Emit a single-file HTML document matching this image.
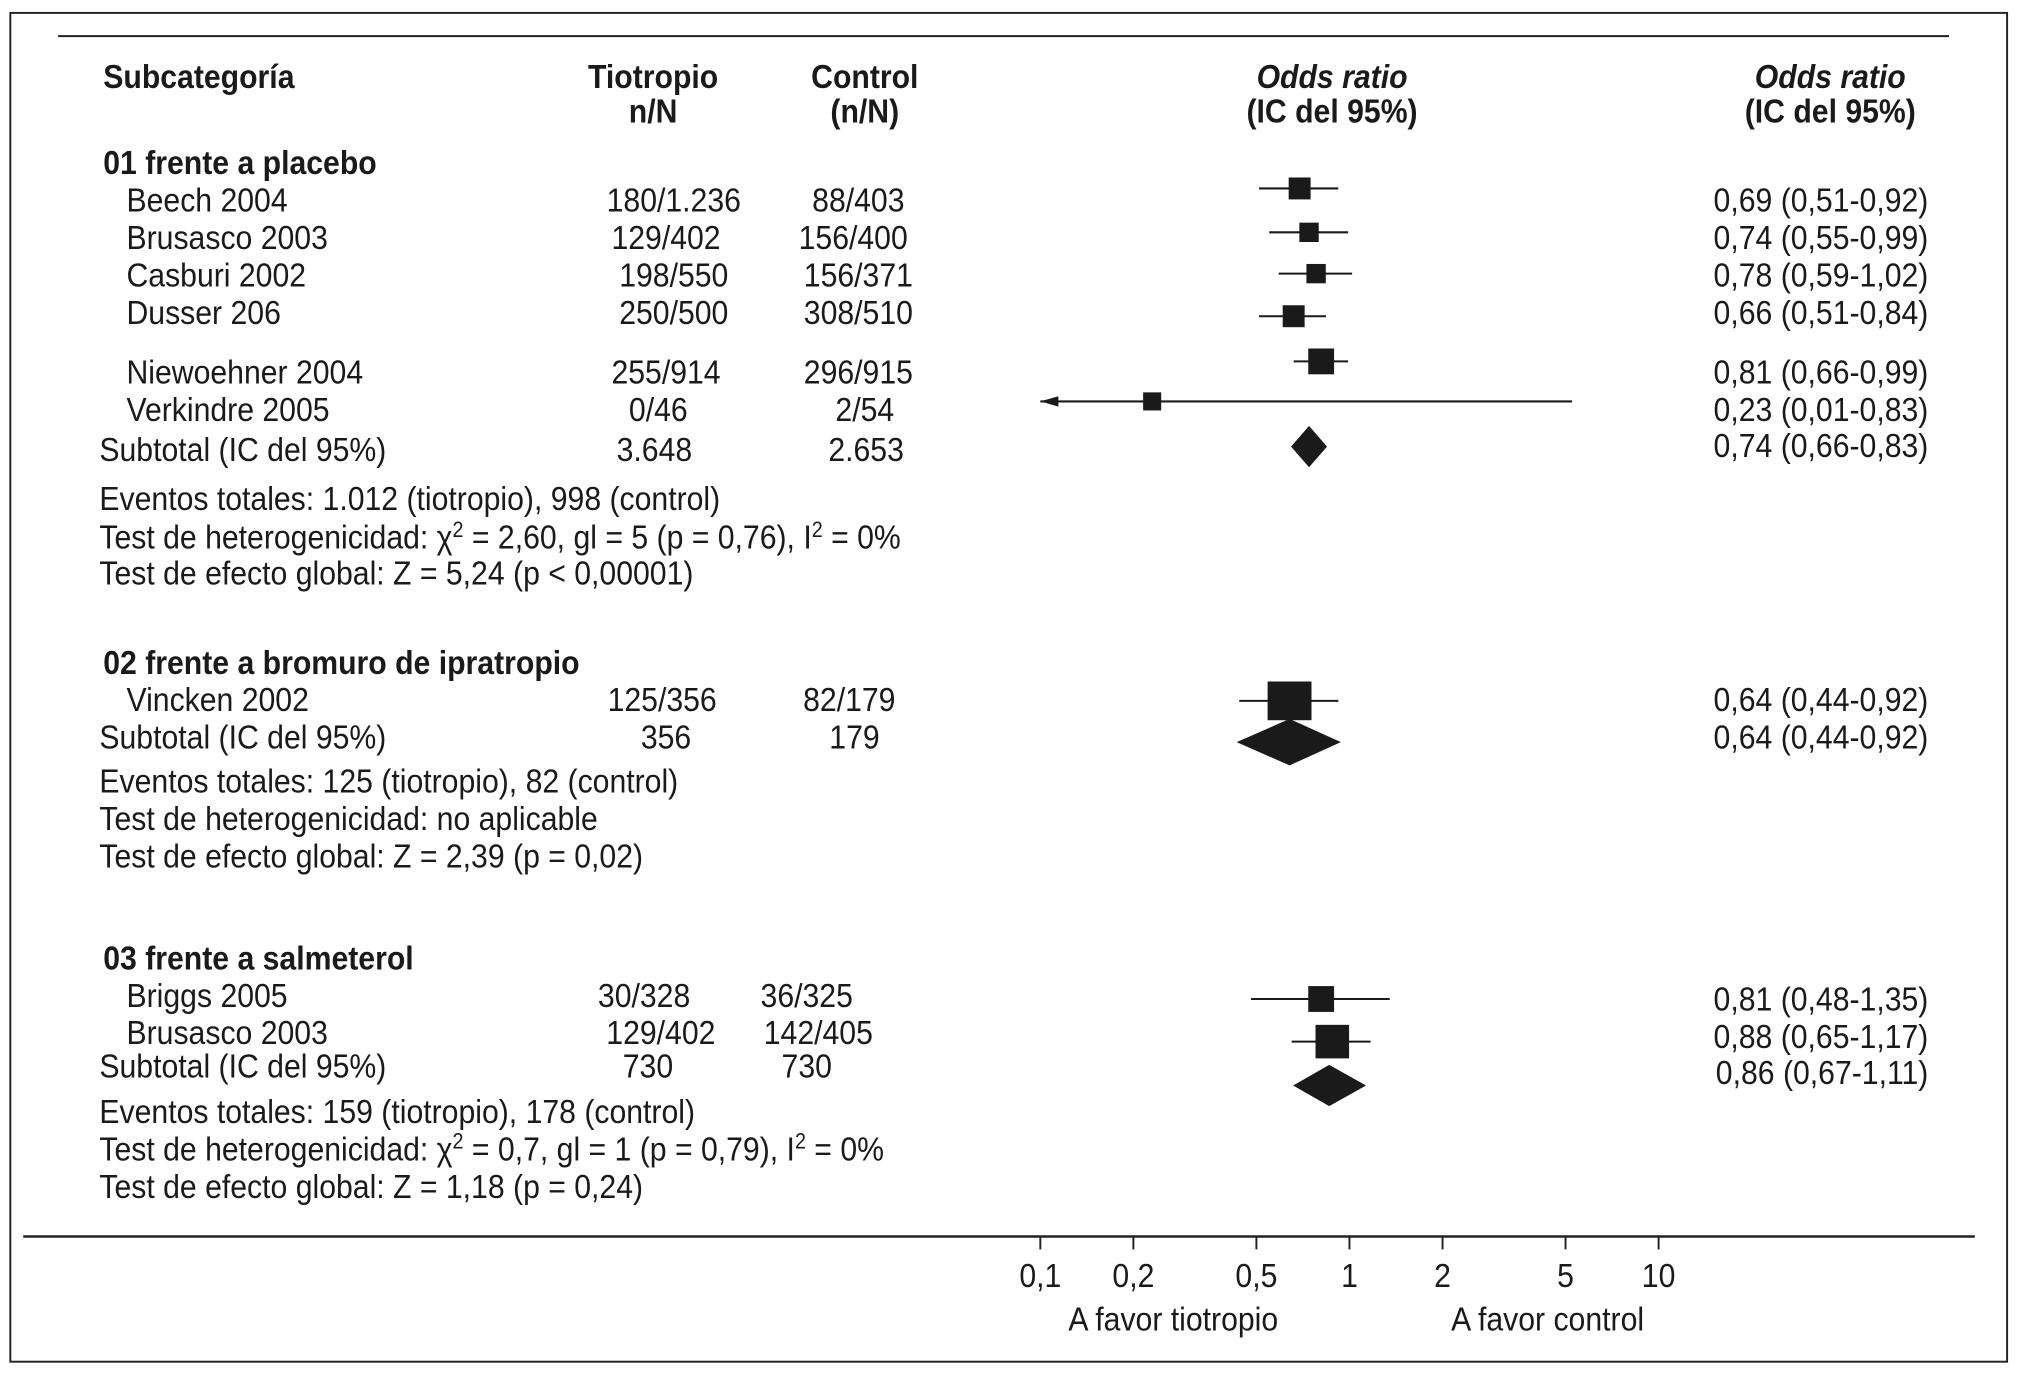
<!DOCTYPE html>
<html><head><meta charset="utf-8"><style>
html,body{margin:0;padding:0;background:#fff;}
svg{display:block;}
text{font-family:"Liberation Sans",sans-serif;font-size:26px;fill:#1a1a1a;}
.b{font-weight:bold;}
</style></head><body>
<svg id="chart" width="2020" height="1375" viewBox="0 0 1565 1065.3" preserveAspectRatio="none" xmlns="http://www.w3.org/2000/svg">
<rect x="8" y="10" width="1547" height="1045" fill="none" stroke="#222" stroke-width="1.5"/>
<line x1="45" y1="28" x2="1510" y2="28" stroke="#222" stroke-width="1.5"/>
<line x1="18" y1="958" x2="1530" y2="958" stroke="#222" stroke-width="2"/>
<g id="texts">
<g>
<text class="b" x="80" y="68">Subcategoría</text>
<text class="b" x="506" y="68" text-anchor="middle">Tiotropio</text>
<text class="b" x="506" y="95" text-anchor="middle">n/N</text>
<text class="b" x="670" y="68" text-anchor="middle">Control</text>
<text class="b" x="670" y="95" text-anchor="middle">(n/N)</text>
<text class="b" x="1032" y="68" text-anchor="middle" font-style="italic">Odds ratio</text>
<text class="b" x="1032" y="95" text-anchor="middle">(IC del 95%)</text>
<text class="b" x="1418" y="68" text-anchor="middle" font-style="italic">Odds ratio</text>
<text class="b" x="1418" y="95" text-anchor="middle">(IC del 95%)</text>
</g>
<g>
<text class="b" x="80" y="135">01 frente a placebo</text>
<text x="77" y="395">Eventos totales: 1.012 (tiotropio), 998 (control)</text>
<text x="77" y="425">Test de heterogenicidad: χ<tspan dy="-9" font-size="17">2</tspan><tspan dy="9"> = 2,60, gl = 5 (p = 0,76), I</tspan><tspan dy="-9" font-size="17">2</tspan><tspan dy="9"> = 0%</tspan></text>
<text x="77" y="453">Test de efecto global: Z = 5,24 (p &lt; 0,00001)</text>
<text class="b" x="80" y="522">02 frente a bromuro de ipratropio</text>
<text x="77" y="614">Eventos totales: 125 (tiotropio), 82 (control)</text>
<text x="77" y="643">Test de heterogenicidad: no aplicable</text>
<text x="77" y="672">Test de efecto global: Z = 2,39 (p = 0,02)</text>
<text class="b" x="80" y="751">03 frente a salmeterol</text>
<text x="77" y="870">Eventos totales: 159 (tiotropio), 178 (control)</text>
<text x="77" y="899">Test de heterogenicidad: χ<tspan dy="-9" font-size="17">2</tspan><tspan dy="9"> = 0,7, gl = 1 (p = 0,79), I</tspan><tspan dy="-9" font-size="17">2</tspan><tspan dy="9"> = 0%</tspan></text>
<text x="77" y="928">Test de efecto global: Z = 1,18 (p = 0,24)</text>
</g>
<g id="rows"></g>
<g id="axis"></g>
<text x="909" y="1031" text-anchor="middle">A favor tiotropio</text>
<text x="1199" y="1031" text-anchor="middle">A favor control</text>
</g>
<g id="marks"></g>
</svg>
<script>
const studies = ["Beech 2004","Brusasco 2003","Casburi 2002","Dusser 206","Niewoehner 2004","Verkindre 2005","Subtotal (IC del 95%)","Vincken 2002","Subtotal (IC del 95%)","Briggs 2005","Brusasco 2003","Subtotal (IC del 95%)"];
const tioText = ["180/1.236","129/402","198/550","250/500","255/914","0/46","3.648","125/356","356","30/328","129/402","730"];
const ctrlText = ["88/403","156/400","156/371","308/510","296/915","2/54","2.653","82/179","179","36/325","142/405","730"];
const orText = ["0,69 (0,51-0,92)","0,74 (0,55-0,99)","0,78 (0,59-1,02)","0,66 (0,51-0,84)","0,81 (0,66-0,99)","0,23 (0,01-0,83)","0,74 (0,66-0,83)","0,64 (0,44-0,92)","0,64 (0,44-0,92)","0,81 (0,48-1,35)","0,88 (0,65-1,17)","0,86 (0,67-1,11)"];
const orVal = [0.69,0.74,0.78,0.66,0.81,0.23,0.74,0.64,0.64,0.81,0.88,0.86];
const ciLow = [0.51,0.55,0.59,0.51,0.66,0.01,0.66,0.44,0.44,0.48,0.65,0.67];
const ciHigh = [0.92,0.99,1.02,0.84,0.99,5.25,0.83,0.92,0.92,1.35,1.17,1.11];
const weight = [17,15,15,17,20,14,0,34,0,20,26,0];
const isSubtotal = [0,0,0,0,0,0,1,0,1,0,0,1];
const tickVals = [0.1,0.2,0.5,1,2,5,10];
const tickLabels = ["0,1","0,2","0,5","1","2","5","10"];

const NS="http://www.w3.org/2000/svg";
const textY=[164,193,222,251,297,326,357,551,580,780,809,835];
const orY=[164,193,222,251,297,326,354,551,580,783,812,840];
const markY=[146,180,212,245,280,311,346,543,575,774,807,841];
const X0=806, X1=1285;
function xs(v){return X0+(Math.log10(v)+1)/2*(X1-X0);}
function mk(tag,attrs,parent,txt){const e=document.createElementNS(NS,tag);for(const k in attrs)e.setAttribute(k,attrs[k]);if(txt!==undefined)e.textContent=txt;parent.appendChild(e);return e;}
const rows=document.getElementById('rows'), marks=document.getElementById('marks'), axis=document.getElementById('axis');
const tioX=[522,516,522,522,516,510,507,513,516,499,512,502];
const ctlX=[665,661,665,665,665,670,671,658,662,625,634,625];
studies.forEach((s,i)=>{
  const g=mk('g',{},rows);
  
  
  mk('text',{x:isSubtotal[i]?77:98,y:textY[i]},g,s);
  mk('text',{x:tioX[i],y:textY[i],'text-anchor':'middle'},g,tioText[i]);
  mk('text',{x:ctlX[i],y:textY[i],'text-anchor':'middle'},g,ctrlText[i]);
  mk('text',{x:1494,y:orY[i],'text-anchor':'end'},g,orText[i]);
  const y=markY[i];
  if(isSubtotal[i]){
    const l=xs(ciLow[i]),h=xs(ciHigh[i]),c=xs(orVal[i]);
    const hh=i===8?18:16;
    const d=mk('polygon',{points:`${l-2},${y} ${c},${y-hh} ${h+2},${y} ${c},${y+hh}`,fill:'#1a1a1a'},marks);
    
    
  } else {
    let lo=ciLow[i], x1=Math.max(xs(lo),X0), x2=xs(ciHigh[i]);
    const ln=mk('line',{x1:x1,y1:y,x2:x2,y2:y,stroke:'#1a1a1a','stroke-width':1.6},marks);
    
    
    if(xs(lo)<X0){
      const a=mk('polygon',{points:`${X0},${y} ${X0+14},${y-4} ${X0+14},${y+4}`,fill:'#1a1a1a'},marks);
      
      
    }
    const w=weight[i], c=xs(orVal[i]);
    const hgt=i===7?30:w;
    const r=mk('rect',{x:c-w/2,y:y-hgt/2,width:w,height:hgt,fill:'#1a1a1a'},marks);
    
    
  }
});
tickVals.forEach((v,i)=>{
  const x=xs(v);
  const t=mk('line',{x1:x,y1:958,x2:x,y2:968,stroke:'#222','stroke-width':1.5},marks);
  
  
  const l=mk('text',{x:x,y:997,'text-anchor':'middle'},axis,tickLabels[i]);
  
  
});
document.querySelectorAll('#texts text').forEach(t=>{
  const x=+t.getAttribute('x'), y=+t.getAttribute('y');
  t.setAttribute('x',0); t.setAttribute('y',0);
  t.setAttribute('transform',`translate(${x},${y}) scale(0.9,1)`);
});
</script>
</body></html>
